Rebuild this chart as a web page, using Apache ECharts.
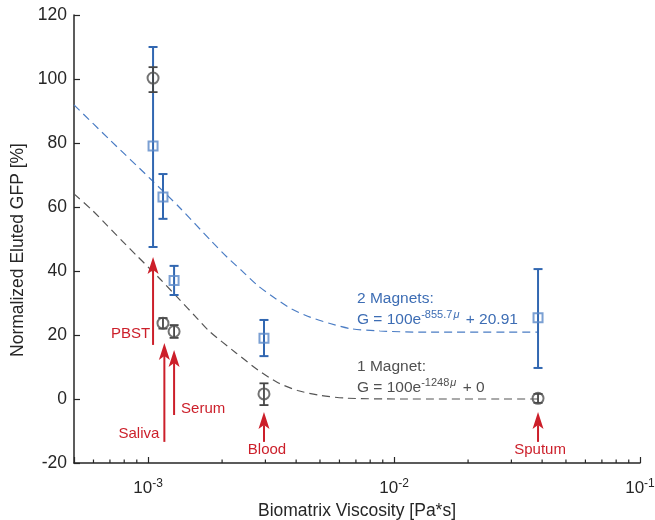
<!DOCTYPE html>
<html><head><meta charset="utf-8">
<script src="https://cdn.jsdelivr.net/npm/echarts@6/dist/echarts.min.js"></script>
<style>html,body{margin:0;padding:0;background:#fff}#c{width:655px;height:520px}</style>
</head><body><div id="c"></div>
<script>
// ---- data ----
const viscosity1 = [1.048e-3, 1.15e-3, 1.276e-3, 2.96e-3, 0.0385];
const gfp1 = [100.3, 23.7, 21.1, 1.6, 0.2];
const err1Low = [95.9, 22.0, 19.1, -1.9, -1.2];
const err1High = [103.7, 25.3, 23.1, 4.9, 1.6];

const viscosity2 = [1.048e-3, 1.15e-3, 1.276e-3, 2.96e-3, 0.0385];
const gfp2 = [79.1, 63.1, 37.0, 19.0, 25.4];
const err2Low = [47.5, 56.3, 32.5, 13.4, 9.7];
const err2High = [110, 70.3, 41.6, 24.7, 40.6];

const fit2X = [5.0e-4, 7.01e-4, 1.019e-3, 1.349e-3, 1.82e-3, 2.104e-3, 2.404e-3, 2.787e-3, 3.283e-3, 3.838e-3, 4.556e-3, 5.493e-3, 6.625e-3, 8.769e-3, 1.276e-2, 0.0385];
const fit2Y = [91.9, 80.9, 68.9, 59.7, 49.1, 44.2, 40.1, 35.5, 31.5, 28.1, 25.6, 23.6, 22.0, 21.25, 20.9, 20.9];

const fit1X = [5.0e-4, 5.976e-4, 6.845e-4, 7.914e-4, 9.02e-4, 1.119e-3, 1.349e-3, 1.553e-3, 1.771e-3, 2.279e-3, 2.80e-3, 3.36e-3, 4.053e-3, 5.049e-3, 6.44e-3, 1.058e-2, 0.0385];
const fit1Y = [64.1, 58.75, 54.1, 49.1, 44.7, 37.5, 30.9, 25.9, 21.25, 14.4, 9.06, 5.16, 2.66, 1.09, 0.25, 0, 0];

const arrowLabels = ['PBST', 'Saliva', 'Serum', 'Blood', 'Sputum'];
const arrowX = [1.048e-3, 1.165e-3, 1.276e-3, 2.96e-3, 0.0385];
const arrowTip = [44.4, 17.5, 15.3, -4.1, -4.1];
const arrowTail = [16.9, -13.4, -5.0, -13.4, -13.4];

const minorTickValues = [6e-4, 7e-4, 8e-4, 9e-4,
  2e-3, 3e-3, 4e-3, 5e-3, 6e-3, 7e-3, 8e-3, 9e-3,
  2e-2, 3e-2, 4e-2, 5e-2, 6e-2, 7e-2, 8e-2, 9e-2];

const xMin = 5e-4, xMax = 1e-1;
const yMin = -20, yMax = 120, yStep = 20;

// ---- styles ----
const FONT = '"Liberation Sans", Arial, Helvetica, sans-serif';
const TXT = '#262626';
const BLUE_BAR = '#3167b1';
const BLUE_MK = '#5a88c8';
const BLUE_FIT = '#4a7cc4';
const BLUE_TXT = '#3d6db4';
const GRAY_BAR = '#454545';
const GRAY_MK = '#505050';
const GRAY_FIT = '#555555';
const GRAY_TXT = '#505050';
const RED = '#cc1f2a';

const labelStyle = [
  {dx: -3, dy: -11, align: 'right'},
  {dx: -5, dy: -8, align: 'right'},
  {dx: 7, dy: -6, align: 'left'},
  {dx: 3, dy: 8, align: 'center'},
  {dx: 2, dy: 8, align: 'center'}
];

function errorBar(color, width) {
  return function (params, api) {
    const top = api.coord([api.value(0), api.value(2)]);
    const bot = api.coord([api.value(0), api.value(1)]);
    const cw = 4.5;
    const st = {stroke: color, lineWidth: width};
    return {type: 'group', children: [
      {type: 'line', shape: {x1: top[0], y1: top[1], x2: bot[0], y2: bot[1]}, style: st},
      {type: 'line', shape: {x1: top[0] - cw, y1: top[1], x2: top[0] + cw, y2: top[1]}, style: st},
      {type: 'line', shape: {x1: bot[0] - cw, y1: bot[1], x2: bot[0] + cw, y2: bot[1]}, style: st}
    ]};
  };
}

function fitText(color, sup, tail) {
  return {
    text: '{n|G = 100e}{s|' + sup + '}{m|μ}{n| + ' + tail + '}', verticalAlign: 'middle',
    rich: {
      n: {fontSize: 15.5, fontFamily: FONT, fill: color, color: color},
      s: {fontSize: 11, fontFamily: FONT, fill: color, color: color, padding: [0, 0, 10, 0]},
      m: {fontSize: 11, fontFamily: FONT, fontStyle: 'italic', fill: color, color: color, padding: [0, 2, 10, 1]}
    }
  };
}

const chart = echarts.init(document.getElementById('c'), null, {renderer: 'canvas'});

const option = {
  animation: false,
  backgroundColor: '#fff',
  grid: {left: 74, right: 15, top: 15, bottom: 57, containLabel: false, outerBoundsMode: 'none'},
  xAxis: {
    type: 'log', logBase: 10, min: xMin, max: xMax,
    name: 'Biomatrix Viscosity [Pa*s]', nameLocation: 'middle', nameGap: 37,
    nameTextStyle: {color: TXT, fontFamily: FONT, fontSize: 17.5},
    axisLine: {onZero: false, lineStyle: {color: TXT, width: 1.5}},
    axisTick: {inside: true, length: 6, lineStyle: {color: TXT, width: 1.2}},
    splitLine: {show: false},
    axisLabel: {
      margin: 15, color: TXT, fontFamily: FONT,
      formatter: function (v) {
        const l = Math.log10(v), e = Math.round(l);
        if (Math.abs(l - e) > 1e-6) return '';
        return '{b|10}{s|' + e + '}';
      },
      rich: {
        b: {fontSize: 17, fontFamily: FONT, color: TXT},
        s: {fontSize: 12, fontFamily: FONT, color: TXT, padding: [0, 0, 9, 0]}
      }
    }
  },
  yAxis: {
    type: 'value', min: yMin, max: yMax, interval: yStep,
    name: 'Normalized Eluted GFP [%]', nameLocation: 'middle', nameGap: 44,
    nameTextStyle: {color: TXT, fontFamily: FONT, fontSize: 17.5, padding: [0, 22, 0, 0]},
    axisLine: {show: true, onZero: false, lineStyle: {color: TXT, width: 1.5}},
    axisTick: {show: true, inside: true, length: 6, lineStyle: {color: TXT, width: 1.2}},
    splitLine: {show: false},
    axisLabel: {margin: 7, color: TXT, fontFamily: FONT, fontSize: 17.5}
  },
  series: [
    {
      type: 'line', name: 'fit2', data: fit2X.map((x, i) => [x, fit2Y[i]]),
      smooth: 0.25, showSymbol: false, symbol: 'none', z: 2,
      lineStyle: {color: BLUE_FIT, width: 1.2, type: [8, 5]}
    },
    {
      type: 'line', name: 'fit1', data: fit1X.map((x, i) => [x, fit1Y[i]]),
      smooth: 0.25, showSymbol: false, symbol: 'none', z: 2,
      lineStyle: {color: GRAY_FIT, width: 1.2, type: [8, 5]}
    },
    {
      type: 'custom', name: 'err2', z: 3,
      data: viscosity2.map((x, i) => [x, err2Low[i], err2High[i]]),
      renderItem: errorBar(BLUE_BAR, 2)
    },
    {
      type: 'custom', name: 'err1', z: 3,
      data: viscosity1.map((x, i) => [x, err1Low[i], err1High[i]]),
      renderItem: errorBar(GRAY_BAR, 1.8)
    },
    {
      type: 'scatter', name: '2 Magnets', z: 4,
      data: viscosity2.map((x, i) => [x, gfp2[i]]),
      symbol: 'rect', symbolSize: 9,
      itemStyle: {color: 'rgba(0,0,0,0)', borderColor: BLUE_MK, borderWidth: 2}
    },
    {
      type: 'scatter', name: '1 Magnet', z: 4,
      data: viscosity1.map((x, i) => [x, gfp1[i]]),
      symbol: 'circle', symbolSize: 11,
      itemStyle: {color: 'rgba(0,0,0,0)', borderColor: GRAY_MK, borderWidth: 2}
    },
    {
      type: 'custom', name: 'minorTicks', z: 5, silent: true,
      data: minorTickValues.map(v => [v, yMin]),
      renderItem: function (params, api) {
        const p = api.coord([api.value(0), api.value(1)]);
        return {type: 'line', shape: {x1: p[0], y1: p[1], x2: p[0], y2: p[1] - 3.5},
          style: {stroke: TXT, lineWidth: 1.2}};
      }
    },
    {
      type: 'custom', name: 'arrows', z: 6, silent: true,
      data: arrowX.map((x, i) => [x, arrowTip[i], arrowTail[i], i]),
      renderItem: function (params, api) {
        const i = api.value(3);
        const tip = api.coord([api.value(0), api.value(1)]);
        const tail = api.coord([api.value(0), api.value(2)]);
        const L = 17, W = 5.5, back = 4;
        const ls = labelStyle[i];
        return {type: 'group', children: [
          {type: 'line', shape: {x1: tail[0], y1: tail[1], x2: tip[0], y2: tip[1] + L - back},
            style: {stroke: RED, lineWidth: 2}},
          {type: 'polygon', shape: {points: [[tip[0], tip[1]], [tip[0] + W, tip[1] + L], [tip[0], tip[1] + L - back], [tip[0] - W, tip[1] + L]]},
            style: {fill: RED}},
          {type: 'text', x: tail[0] + ls.dx, y: tail[1] + ls.dy,
            style: {text: arrowLabels[i], fill: RED, font: '15px ' + FONT, align: ls.align, verticalAlign: 'middle'}}
        ]};
      }
    }
  ],
  graphic: [
    {type: 'text', x: 357, y: 299, style: {text: '2 Magnets:', fill: BLUE_TXT, font: '15.5px ' + FONT, verticalAlign: 'middle'}},
    {type: 'text', x: 357, y: 320, style: fitText(BLUE_TXT, '-855.7', '20.91')},
    {type: 'text', x: 357, y: 367, style: {text: '1 Magnet:', fill: GRAY_TXT, font: '15.5px ' + FONT, verticalAlign: 'middle'}},
    {type: 'text', x: 357, y: 388, style: fitText(GRAY_TXT, '-1248', '0')}
  ]
};
chart.setOption(option);
</script>
</body></html>
